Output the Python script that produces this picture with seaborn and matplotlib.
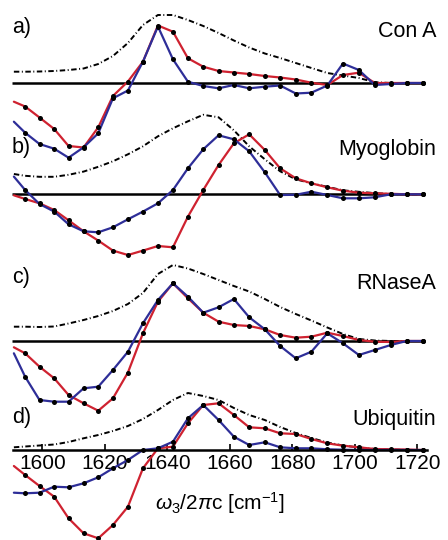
import numpy as np
import matplotlib
matplotlib.use("Agg")
import matplotlib.pyplot as plt
import seaborn as sns

# ==============================
# DATA (arbitrary units)
# first entry of every trace is where the line starts, dots are drawn from index 1
# ==============================
wavenumber = [1590.9, 1594.5, 1599.1, 1603.8, 1608.4, 1613.2, 1617.9, 1622.6, 1627.4,
              1632.2, 1637.0, 1641.8, 1646.6, 1651.5, 1656.4, 1661.3, 1666.2, 1671.2,
              1676.1, 1681.1, 1686.1, 1691.2, 1696.2, 1701.3, 1706.4, 1711.5, 1716.6, 1721.8]

panel_tags = ["a)", "b)", "c)", "d)"]
protein_names = ["Con A", "Myoglobin", "RNaseA", "Ubiquitin"]
panel_offsets = [0, -111.3, -258, -367]

# Con A
dash_a = [11.3, 11.3, 11.5, 12, 13, 14.5, 19, 27, 40, 58, 68, 68, 63, 57, 50, 42.5,
          35.5, 29.5, 25, 20, 15, 10, 7.5, 5, 0.8, 0, 0, 0]
red_a = [-18.7, -23.5, -34.5, -46, -63, -64.5, -44.3, -13, 1.5, 21.3, 57.5, 51.3, 24.7,
         16.3, 12, 10.5, 9, 7, 5.5, 3.5, 0.3, -2, 8, 10.3, 0, 0, 0, 0]
blue_a = [-38.7, -49.7, -61, -65.7, -74.7, -64.3, -50.3, -15.3, -7.5, 21.3, 56.5, 23.7,
          1.3, -3, -5.3, -2, -5.3, -3.7, -2.5, -10.5, -9.7, -2.5, 19.5, 13, -2, -1, 0, 0]

# Myoglobin
dash_b = [20.3, 18.5, 17.5, 17.5, 19.5, 22.7, 27.5, 33, 40, 48, 58, 66, 73, 79.5, 77,
          64, 48, 35, 23, 15, 11, 7.5, 4, 2.5, 1.2, 0.3, 0, 0]
red_b = [-1, -4.7, -9, -15.7, -26, -37, -46.3, -56.3, -60.7, -56.3, -51.7, -53, -22.3,
         4.3, 29.3, 51, 60, 44.3, 26, 16, 11, 7, 3.6, 1.6, 1, 0.5, 0, 0]
blue_b = [17.7, 4.3, -9.7, -17.3, -30, -37, -38, -33, -25, -17.3, -9, 4.3, 26, 45, 59,
          55, 43, 22, -0.7, -0.5, 2.6, -0.7, -4, -4, -3, 0, 0, 0]

# RNaseA
dash_c = [14.3, 14.3, 14, 14.5, 17.5, 21, 25, 30, 37, 48, 67, 76, 72.5, 67, 61, 55,
          49.5, 42, 34, 27, 20.5, 13.5, 7, 2, 0.5, 0, 0, 0]
red_c = [-6.3, -12.3, -25.7, -37.3, -54, -62.3, -69.7, -57.3, -31.5, 7.7, 39.3, 57.7,
         42.7, 28.3, 19.3, 16, 15, 11.7, 6, 3.3, 4.3, 8.3, 5, 1, -0.7, -1, 0, 0]
blue_c = [-12.3, -35.7, -59, -60.7, -60.7, -47.3, -45.7, -29, -10.7, 17.7, 41, 57.7,
          44.3, 28.3, 33.7, 42, 23.7, 11.7, -5, -17.3, -10.7, 7.7, -2.3, -14, -9, -4, 0, 0]

# Ubiquitin
dash_d = [2.7, 3.5, 4.5, 5.5, 8, 11.7, 15, 19, 24, 31, 40, 50, 57, 54, 50, 42, 35, 30,
          23, 17, 12, 7.5, 4.5, 2.5, 1, 0.5, 0, 0]
red_d = [-16, -25, -36, -46.7, -68.3, -83.3, -88.3, -75, -56.7, -18.3, 1.7, 3.3, 26.7,
         45, 46.7, 35, 22.7, 21.7, 16.7, 16, 11, 6.7, 4.3, 2.7, 1, 0.7, 0.5, 0]
blue_d = [-42.7, -43.3, -42.7, -36.7, -37.3, -33.3, -27.3, -18.3, -10, 0, 1.7, 8.3,
          31.7, 45, 30, 13.3, 5, 7.7, 2.7, 1.7, 1.7, 0.7, 0.3, 0, 0, 0, 0, 0]

dash_traces = [dash_a, dash_b, dash_c, dash_d]
red_traces = [red_a, red_b, red_c, red_d]
blue_traces = [blue_a, blue_b, blue_c, blue_d]

x_ticks = [1600, 1620, 1640, 1660, 1680, 1700, 1720]

# ==============================
# STYLE
# ==============================
sns.set_style("white")
plt.rcParams["font.family"] = ["Liberation Sans", "DejaVu Sans"]
plt.rcParams["text.color"] = "black"
plt.rcParams["axes.labelcolor"] = "black"
plt.rcParams["xtick.color"] = "black"
plt.rcParams["mathtext.fontset"] = "custom"
plt.rcParams["mathtext.rm"] = "Liberation Sans"
plt.rcParams["mathtext.it"] = "Liberation Sans:italic"

RED = "#cf2230"
BLUE = "#2e2e98"
DASHDOT = (0, (2.8, 1.3, 0.5, 1.3))

fig = plt.figure(figsize=(4.48, 5.40), dpi=100)
ax = fig.add_axes([0, 0, 1, 1])

# ==============================
# PLOT PANELS (stacked with offsets)
# ==============================
tag_y = [49.7, -69.7, -199.7, -340.3]
name_y = [46.3, -72, -206.3, -342]

for k in range(4):
    off = panel_offsets[k]
    if k < 3:
        ax.hlines(off, 1590.3, 1721.8, color="black", lw=1.8, zorder=1)

    sns.lineplot(x=wavenumber, y=np.array(dash_traces[k]) + off, ax=ax, color="black",
                 lw=1.4, linestyle=DASHDOT, sort=False, legend=False, zorder=2)
    sns.lineplot(x=wavenumber, y=np.array(red_traces[k]) + off, ax=ax, color=RED,
                 lw=1.6, sort=False, legend=False, zorder=2)
    sns.lineplot(x=wavenumber, y=np.array(blue_traces[k]) + off, ax=ax, color=BLUE,
                 lw=1.6, sort=False, legend=False, zorder=2)
    for trace in (red_traces[k], blue_traces[k]):
        sns.scatterplot(x=wavenumber[1:], y=np.array(trace[1:]) + off, ax=ax,
                        color="black", s=13, linewidth=0, legend=False, zorder=3)

    ax.text(1590.3, tag_y[k], panel_tags[k], fontsize=15.5, ha="left", va="baseline")
    ax.text(1726.0, name_y[k], protein_names[k], fontsize=15.5, ha="right", va="baseline")

# ==============================
# AXES
# ==============================
ax.set_xlim(1586.46, 1729.82)
ax.set_ylim(-457, 83)
ax.set_yticks([])
ax.set_ylabel("")
for side in ["top", "left", "right"]:
    ax.spines[side].set_visible(False)
ax.spines["bottom"].set_position(("data", panel_offsets[3]))
ax.spines["bottom"].set_bounds(1590.6, 1723)
ax.spines["bottom"].set_linewidth(1.8)
ax.spines["bottom"].set_color("black")
ax.set_xticks(x_ticks)
ax.tick_params(axis="x", bottom=True, direction="in", length=4, width=1.2,
               labelsize=15, pad=3, colors="black")
ax.set_xlabel(r"$\omega_3/2\pi$c [cm$^{-1}$]", fontsize=15)
ax.xaxis.set_label_coords(0.49, 0.092)
ax.patch.set_alpha(0)

fig.savefig("out.png", dpi=100)
